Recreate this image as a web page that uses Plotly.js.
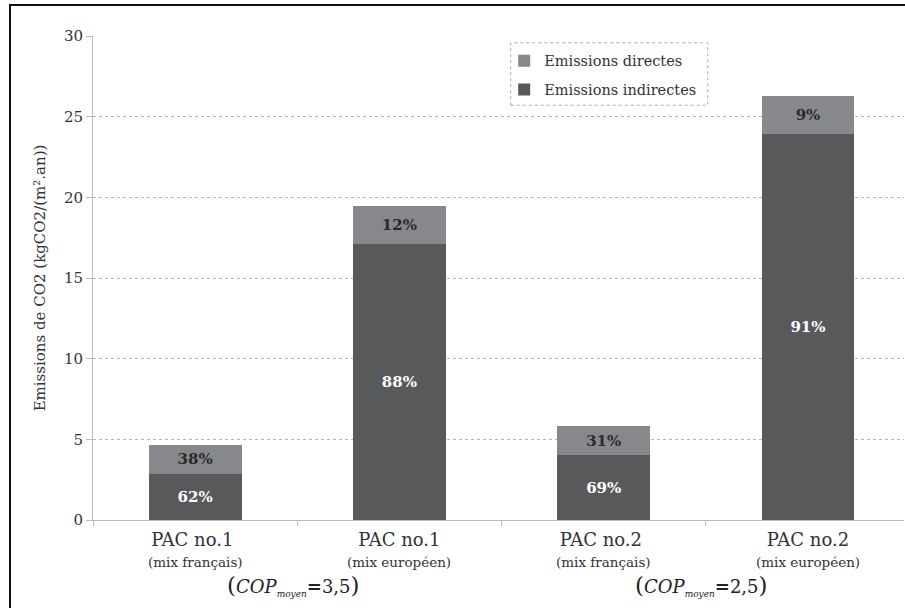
<!DOCTYPE html>
<html>
<head>
<meta charset="utf-8">
<script src="https://cdn.plot.ly/plotly-3.0.1.min.js"></script>
<style>
html,body{margin:0;padding:0;background:#fff;}
#chart{width:905px;height:608px;position:relative;}
#frame{position:absolute;left:9px;top:4px;width:900px;height:610px;border-left:2px solid #111;border-top:2px solid #111;pointer-events:none;}
</style>
</head>
<body>
<div id="chart"></div>
<div id="frame"></div>
<script>
// Data
const categories = ["PAC no.1 ", "PAC no.1", "PAC no.2 ", "PAC no.2"];
const subLabels = ["(mix français)", "(mix européen)", "(mix français)", "(mix européen)"];
const indirectes = [2.88, 17.1, 4.02, 23.95];
const directes = [1.77, 2.35, 1.81, 2.35];
const pctIndirectes = ["62%", "88%", "69%", "91%"];
const pctDirectes = ["38%", "12%", "31%", "9%"];
const copLabels = ["3,5", "2,5"];
const copPositions = [0.5, 2.5];
const yTicks = [0, 5, 10, 15, 20, 25, 30];

const FONT = "DejaVu Serif";

const traces = [
  {
    type: "bar", name: "Emissions indirectes", legendgroup: "ind", legendrank: 2,
    x: categories, y: indirectes,
    text: pctIndirectes, textposition: "inside", insidetextanchor: "middle",
    textfont: {family: FONT, size: 15, color: "#ffffff", weight: "bold"},
    marker: {color: "#58595b"}, hoverinfo: "skip"
  },
  {
    type: "bar", name: "Emissions directes", legendgroup: "dir", legendrank: 1,
    x: categories, y: directes,
    text: pctDirectes, textposition: "inside", insidetextanchor: "middle",
    textfont: {family: FONT, size: 15, color: "#2a2a2a", weight: "bold"},
    marker: {color: "#87888c"}, hoverinfo: "skip"
  }
];

const annotations = copLabels.map((v, i) => ({
  x: copPositions[i], xref: "x", y: -0.135, yref: "paper", xshift: -4,
  xanchor: "center", yanchor: "middle", showarrow: false,
  text: "<span style='font-size:23px'>(</span><i>COP</i><sub><span style='font-size:9px'><i>moyen</i></span></sub><b>=</b>" + v + "<span style='font-size:23px'>)</span>",
  font: {family: FONT, size: 18, color: "#222"}
})).concat(subLabels.map((s, i) => ({
  x: categories[i], xref: "x", y: -0.087, yref: "paper",
  xanchor: "center", yanchor: "middle", showarrow: false,
  text: s, font: {family: FONT, size: 13.5, color: "#333"}
})));

const layout = {
  width: 905, height: 608,
  margin: {l: 93, r: 1, t: 36, b: 88},
  paper_bgcolor: "#fff", plot_bgcolor: "#fff",
  font: {family: FONT, color: "#333"},
  barmode: "stack", bargap: 0.545,
  showlegend: true,
  legend: {
    x: 0.507, y: 0.982, xanchor: "left", yanchor: "top",
    traceorder: "grouped", bgcolor: "rgba(0,0,0,0)", borderwidth: 0,
    font: {family: FONT, size: 14.5, color: "#333"},
    itemwidth: 30, tracegroupgap: 7
  },
  xaxis: {
    type: "category",
    range: [-0.5, 3.47], showgrid: false, zeroline: false,
    showline: true, linecolor: "#bbbbbb", linewidth: 1,
    ticks: "outside", tickson: "boundaries", ticklen: 5, tickcolor: "#bbbbbb",
    ticklabelstandoff: 3,
    tickfont: {family: FONT, size: 18, color: "#333"}
  },
  yaxis: {
    range: [0, 30], tickvals: yTicks, zeroline: false,
    showline: true, linecolor: "#bbbbbb", linewidth: 1,
    ticks: "outside", ticklen: 6, tickcolor: "#bbbbbb",
    showgrid: true, gridcolor: "#b5b5b5", griddash: "dot", gridwidth: 1,
    tickfont: {family: FONT, size: 15, color: "#333"},
    title: {text: "Emissions de CO2 (kgCO2/(m².an))", font: {family: FONT, size: 15, color: "#333"}, standoff: 14}
  },
  annotations: annotations,
  shapes: [{
    type: "rect", xref: "paper", yref: "paper",
    x0: 0.515, x1: 0.758, y0: 0.857, y1: 0.986,
    line: {color: "#aaaaaa", width: 1, dash: "dot"}, fillcolor: "rgba(0,0,0,0)"
  }]
};

Plotly.newPlot("chart", traces, layout, {displayModeBar: false, staticPlot: true});
</script>
</body>
</html>
